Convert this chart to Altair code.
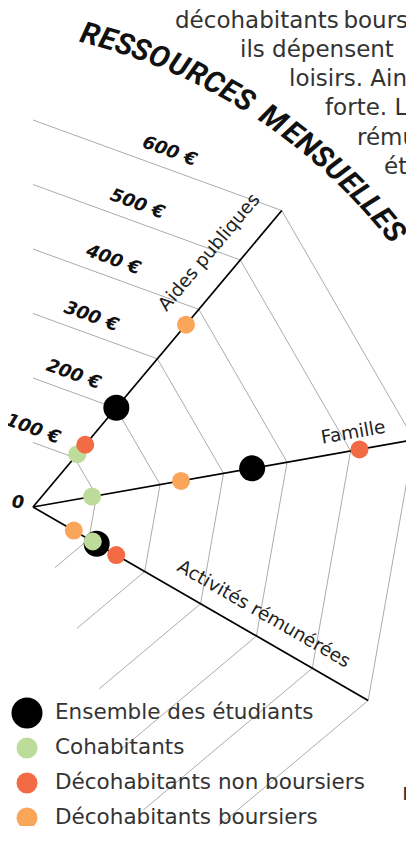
import math
import altair as alt
import pandas as pd

# ---------------- data ----------------
groups = ["Ensemble des étudiants", "Cohabitants",
          "Décohabitants non boursiers", "Décohabitants boursiers"]
group_colors = ["#000000", "#bddc9a", "#f26b45", "#f9a65b"]
aides_publiques = [201, 107, 126, 369]
famille = [345, 93, 514, 233]
activites_remunerees = [114, 107, 149, 73]
axis_labels = ["Aides publiques", "Famille", "Activités rémunérées"]
tick_values = [100, 200, 300, 400, 500, 600]
tick_labels = ["100 €", "200 €", "300 €", "400 €", "500 €", "600 €"]
chart_title = "RESSOURCES MENSUELLES"
body_lines = ["décohabitants\u2009boursiers", "ils  dépensent", "loisirs. Ainsi",
              "forte. La", "rémunérées", "étudiants"]
footer_fragments = ["r"]

# ---------------- layout ----------------
W, H = 398, 818
PAGE = 8
OX, OY = 33.0, 507.0          # radar centre (page px)
K = 0.645                     # px per euro
AX_ANG = [-50, -10, 30]       # visible axes
SPOKES = [-90, -50, -10, 30, 70]


def pol(v, a, off=0.0):
    r = math.radians(a)
    n = math.radians(a - 90)
    return (OX + v * K * math.cos(r) + off * math.cos(n),
            OY + v * K * math.sin(r) + off * math.sin(n))


xs = alt.Scale(domain=[PAGE, PAGE + W], nice=False, zero=False)
ys = alt.Scale(domain=[PAGE, PAGE + H], nice=False, zero=False, reverse=True)


def X(f="x"):
    return alt.X(f"{f}:Q", scale=xs, axis=None)


def Y(f="y"):
    return alt.Y(f"{f}:Q", scale=ys, axis=None)


# grid segments
grid = []
for i in range(len(SPOKES) - 1):
    for t in tick_values:
        x1, y1 = pol(t, SPOKES[i])
        x2, y2 = pol(t, SPOKES[i + 1])
        grid.append(dict(x=x1, y=y1, x2=x2, y2=y2))
grid_df = pd.DataFrame(grid)

axes = []
for a in AX_ANG:
    x1, y1 = pol(0, a)
    x2, y2 = pol(tick_values[-1], a)
    axes.append(dict(x=x1, y=y1, x2=x2, y2=y2))
axes_df = pd.DataFrame(axes)

grid_layer = alt.Chart(grid_df).mark_rule(color="#ababab", strokeWidth=1).encode(
    x=X(), y=Y(), x2="x2:Q", y2="y2:Q")
axes_layer = alt.Chart(axes_df).mark_rule(color="#000000", strokeWidth=1.7).encode(
    x=X(), y=Y(), x2="x2:Q", y2="y2:Q")

# points
pts = []
for gi, g in enumerate(groups):
    for a, vals in zip(AX_ANG, [aides_publiques, famille, activites_remunerees]):
        x, y = pol(vals[gi], a)
        pts.append(dict(x=x, y=y, group=g, size=676 if gi == 0 else 324, z=gi))
pts_df = pd.DataFrame(pts)
color_scale = alt.Scale(domain=groups, range=group_colors)
pts_layer = alt.Chart(pts_df).mark_circle(opacity=1).encode(
    x=X(), y=Y(),
    color=alt.Color("group:N", scale=color_scale, legend=None),
    size=alt.Size("size:Q", scale=None),
    order=alt.Order("z:Q"))

# tick labels
label_dir = [-90, -73, -73, -72, -71, -69]
tl = []
for t, lab, d in zip(tick_values, tick_labels, label_dir):
    r = t * K * math.cos(math.radians(20)) + 17
    tl.append(dict(x=OX + r * math.cos(math.radians(d)),
                   y=OY + r * math.sin(math.radians(d)), text=lab, ang=20))
tl.append(dict(x=OX - 15, y=OY - 4, text="0", ang=0))
tl_df = pd.DataFrame(tl)
tick_layer = alt.Chart(tl_df).mark_text(
    font="DejaVu Sans", fontSize=18, fontWeight="bold", fontStyle="italic",
    color="#111111", align="center", baseline="middle").encode(
    x=X(), y=Y(), text="text:N", angle=alt.Angle("ang:Q", scale=None))

# axis labels
al = []
for name, a, v, off in zip(axis_labels, AX_ANG, [478, 509, 393], [29, 18, 23]):
    x, y = pol(v, a, off)
    al.append(dict(x=x, y=y, text=name, ang=a % 360))
al_df = pd.DataFrame(al)
axis_lab_layer = alt.Chart(al_df).mark_text(
    font="DejaVu Sans", fontSize=18.5, color="#222222",
    align="center", baseline="middle").encode(
    x=X(), y=Y(), text="text:N", angle=alt.Angle("ang:Q", scale=None))

# curved title
CX, CY, CR = -53.4, 587.1, 570.4
A0, A1 = -75.44, -38.5
widths = {" ": 10, "M": 30, "O": 21, "U": 20, "R": 19, "N": 20, "C": 18,
          "L": 15, "E": 17, "S": 17}
w = [widths.get(c, 17) for c in chart_title]
s = [0.0]
for i in range(1, len(w)):
    s.append(s[-1] + (w[i - 1] + w[i]) / 2)
tt = []
for c, si in zip(chart_title, s):
    if c == " ":
        continue
    th = A0 + (A1 - A0) * si / s[-1]
    tr = math.radians(th)
    tt.append(dict(x=CX + CR * math.cos(tr), y=CY + CR * math.sin(tr),
                   text=c, ang=(th + 90) % 360))
tt_df = pd.DataFrame(tt)
title_layer = alt.Chart(tt_df).mark_text(
    font="Roboto", fontSize=30, fontWeight="bold", fontStyle="italic",
    color="#111111", align="center", baseline="middle").encode(
    x=X(), y=Y(), text="text:N", angle=alt.Angle("ang:Q", scale=None))

# background paragraph
body_x = [175, 240, 289, 325, 357, 384]
body_df = pd.DataFrame(dict(x=body_x, y=[27.5 + 29.3 * i for i in range(len(body_lines))],
                            text=body_lines))
body_layer = alt.Chart(body_df).mark_text(
    font="DejaVu Sans", fontSize=23, color="#333333", align="left",
    baseline="alphabetic").encode(x=X(), y=Y(), text="text:N")

foot_df = pd.DataFrame(dict(x=[402], y=[800], text=footer_fragments))
foot_r = alt.Chart(foot_df).mark_text(
    font="DejaVu Sans", fontSize=23, color="#333333", align="left",
    baseline="alphabetic").encode(x=X(), y=Y(), text="text:N")

# legend
leg_df = pd.DataFrame(dict(group=groups, x=[27] * 4, tx=[55] * 4,
                           y=[713 + 35 * i for i in range(4)],
                           size=[961, 441, 441, 441]))
leg_sym = alt.Chart(leg_df).mark_circle(opacity=1).encode(
    x=X(), y=Y(), color=alt.Color("group:N", scale=color_scale, legend=None),
    size=alt.Size("size:Q", scale=None))
leg_txt = alt.Chart(leg_df).mark_text(
    font="DejaVu Sans", fontSize=21.5, color="#333333", align="left",
    baseline="middle").encode(x=X("tx"), y=Y(), text="group:N")

chart = alt.layer(
    body_layer, foot_r, grid_layer, axes_layer, tick_layer, axis_lab_layer,
    title_layer, pts_layer, leg_sym, leg_txt
).properties(
    width=W, height=H, padding=0,
    autosize=alt.AutoSizeParams(type="none")
).configure_view(stroke=None)

chart.save("out.html", embed_options={"renderer": "svg", "actions": False})
